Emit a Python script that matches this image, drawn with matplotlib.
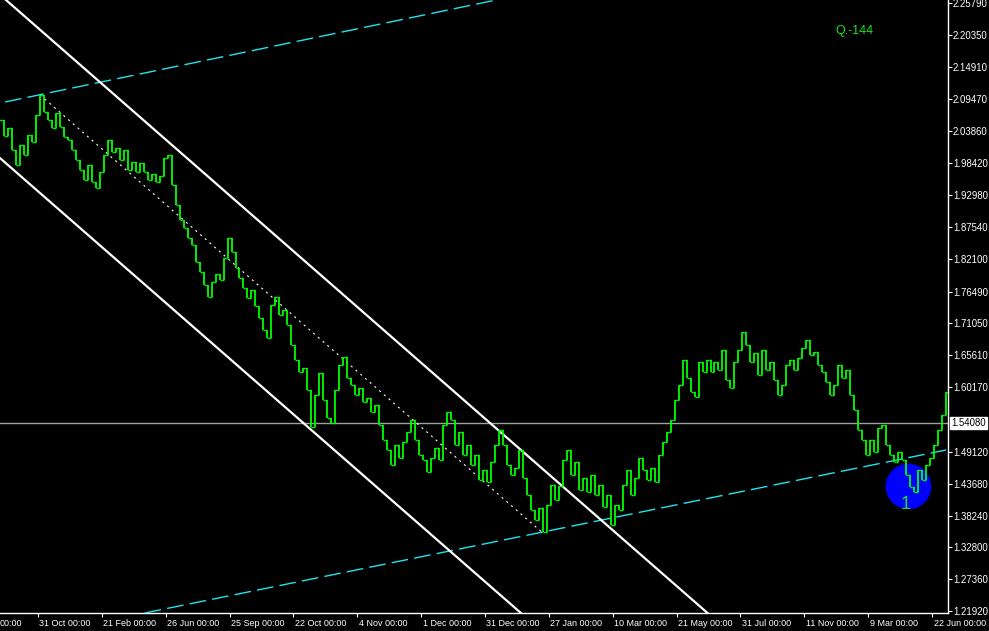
import matplotlib
matplotlib.use("Agg")
import matplotlib.pyplot as plt
import matplotlib.transforms as mtrans
import numpy as np

plt.rcParams['lines.scale_dashes'] = False
plt.rcParams['font.family'] = ['Liberation Sans', 'DejaVu Sans']

# ------------------------------
# 1. Data (closes per bar)
# ------------------------------
closes = [
    2.058, 2.031, 2.044, 2.007, 1.981, 2.015, 1.998, 2.032, 2.020, 2.067,
    2.101, 2.072, 2.058, 2.044, 2.070, 2.046, 2.029, 2.024, 2.007, 1.990,
    1.973, 1.956, 1.981, 1.952, 1.942, 1.969, 1.998, 2.024, 2.003, 2.010,
    1.990, 2.007, 1.973, 1.986, 1.969, 1.985, 1.969, 1.956, 1.966, 1.952,
    1.962, 1.993, 1.998, 1.947, 1.913, 1.887, 1.874, 1.857,
    1.845, 1.816, 1.798, 1.776, 1.756, 1.781, 1.795, 1.785, 1.822, 1.857,
    1.833, 1.805, 1.788, 1.771, 1.754, 1.768, 1.740, 1.720, 1.699, 1.686,
    1.742, 1.756, 1.725, 1.734, 1.708, 1.674, 1.648, 1.628, 1.634, 1.597,
    1.534, 1.588, 1.626, 1.580, 1.549, 1.541, 1.597, 1.640, 1.653, 1.617,
    1.605, 1.588, 1.600, 1.576, 1.583, 1.559, 1.571, 1.537, 1.511, 1.494,
    1.469, 1.503, 1.481, 1.508, 1.525, 1.546, 1.511, 1.486, 1.477, 1.457,
    1.481, 1.498, 1.477, 1.537, 1.559, 1.546, 1.503, 1.525, 1.486, 1.503,
    1.469, 1.486, 1.443, 1.460, 1.440, 1.474, 1.503, 1.529, 1.503, 1.469,
    1.452, 1.464, 1.494, 1.447, 1.418, 1.392, 1.375, 1.395, 1.354, 1.400,
    1.435, 1.409, 1.433, 1.477, 1.494, 1.452, 1.474, 1.426, 1.447, 1.423,
    1.452, 1.418, 1.435, 1.397,
    1.418, 1.366, 1.400, 1.392, 1.435, 1.460, 1.418, 1.447, 1.481, 1.460,
    1.443, 1.464, 1.440, 1.486, 1.508, 1.525, 1.546, 1.580, 1.605, 1.648,
    1.617, 1.593, 1.585, 1.645, 1.628, 1.648, 1.628, 1.645, 1.631, 1.665,
    1.614, 1.600, 1.645, 1.665, 1.696, 1.674, 1.645, 1.660, 1.623, 1.665,
    1.631, 1.645, 1.614, 1.588, 1.605,
    1.640, 1.648, 1.631, 1.652, 1.669, 1.682, 1.657, 1.662, 1.640, 1.628,
    1.611, 1.588, 1.605, 1.640, 1.617, 1.631, 1.588, 1.563, 1.529, 1.511,
    1.486, 1.511, 1.491, 1.532, 1.537, 1.503, 1.486, 1.474, 1.491, 1.477,
    1.452, 1.431, 1.423, 1.460, 1.443, 1.469, 1.481, 1.503, 1.529, 1.554,
    1.593,
]

date_labels = ["31 Oct 00:00", "21 Feb 00:00", "26 Jun 00:00", "25 Sep 00:00",
               "22 Oct 00:00", "4 Nov 00:00", "1 Dec 00:00", "31 Dec 00:00",
               "27 Jan 00:00", "10 Mar 00:00", "21 May 00:00", "31 Jul 00:00",
               "11 Nov 00:00", "9 Mar 00:00", "22 Jun 00:00"]
date_bars = [9.5, 25.5, 41.5, 57.5, 73.5, 89.5, 105.5, 121.5,
             137.5, 153.5, 169.5, 185.5, 201.5, 217.5, 233.5]

price_ticks = [2.25790, 2.20350, 2.14910, 2.09470, 2.03860, 1.98420, 1.92980,
               1.87540, 1.82100, 1.76490, 1.71050, 1.65610, 1.60170, 1.49120,
               1.43680, 1.38240, 1.32800, 1.27360, 1.21920]
last_price = 1.54080

# trend lines: (bar, price) anchors
cyan_upper_bars, cyan_upper_prices = [1.25, 125.0], [2.0888, 2.2640]
cyan_lower_bars, cyan_lower_prices = [36.25, 237.0], [1.2160, 1.4944]
white_upper_bars, white_upper_prices = [1.5, 177.25], [2.2630, 1.2160]
white_lower_bars, white_lower_prices = [0.0, 130.5], [1.9930, 1.2160]
dotted_bars, dotted_prices = [10.0, 135.75], [2.1010, 1.3540]

circle_bar, circle_price = 227.5, 1.433
wave_label = "1"
wave_bar, wave_price = 226.9, 1.4005
title_text = "Q.-144"

# ------------------------------
# 2. Figure
# ------------------------------
W, H = 989, 631
fig = plt.figure(figsize=(W / 100, H / 100), dpi=100, facecolor="black")
ax = fig.add_axes([0, (H - 613) / H, 948 / W, 613 / H], facecolor="black")
ax.set_xlim(0, 237.5)
ax.set_ylim(1.2160, 2.2630)

# current price line
ax.axhline(last_price, color="#a0a0a0", lw=1.0, zorder=1)

# blue marker
ax.scatter([circle_bar], [circle_price], s=1080, color="#0000ff", zorder=2,
           linewidths=0)

# price bars: open = previous close
x = np.arange(len(closes))
c = np.array(closes)
o = np.concatenate([[c[0]], c[:-1]])
lo = np.minimum(o, c)
hi = np.maximum(o, c)
green = "#00ff00"
ax.vlines(x, lo, hi, color=green, lw=1.3, zorder=4)
ax.hlines(o, x - 0.5, x, color=green, lw=1.0, zorder=4)
ax.hlines(c, x, x + 0.5, color=green, lw=1.0, zorder=4)

# channel lines
cyan = "#1ee6f0"
ax.plot(cyan_upper_bars, cyan_upper_prices, color=cyan, lw=1.0,
        dashes=(12, 4.5), zorder=3)
ax.plot(cyan_lower_bars, cyan_lower_prices, color=cyan, lw=1.0,
        dashes=(12, 4.5), zorder=3)
ax.plot(white_upper_bars, white_upper_prices, color="white", lw=1.6, zorder=3)
ax.plot(white_lower_bars, white_lower_prices, color="white", lw=1.6, zorder=3)
ax.plot(dotted_bars, dotted_prices, color="white", lw=0.8,
        dashes=(1.5, 3.0), zorder=3)

# texts
text_green = "#1fe01f"
ax.text(wave_bar, wave_price, wave_label, color=text_green, fontsize=13,
        ha="center", va="center", zorder=5)
ax.text(835 / 948, 1 - 31 / 613, title_text, color=text_green, fontsize=9,
        ha="left", va="center", transform=ax.transAxes)

# ------------------------------
# 3. Axes styling
# ------------------------------
for s in ["top", "left"]:
    ax.spines[s].set_visible(False)
for s in ["right", "bottom"]:
    ax.spines[s].set_color("white")
    ax.spines[s].set_linewidth(1.0)

ax.yaxis.tick_right()
ax.set_yticks(price_ticks)
ax.set_yticklabels([f"{p:.5f}" for p in price_ticks])
ax.tick_params(axis="y", colors="white", length=3, width=0.8, pad=0.6,
               labelsize=6.9)

ax.set_xticks(date_bars)
ax.set_xticklabels(date_labels, ha="left")
ax.tick_params(axis="x", colors="white", length=3, width=0.8, pad=1.5,
               labelsize=6.5)
offset = mtrans.ScaledTranslation(1.5 / 100, 0, fig.dpi_scale_trans)
for lab in ax.get_xticklabels():
    lab.set_transform(lab.get_transform() + offset)

# partial first date label
fig.text(0, (H - 623) / H, "00:00", color="white", fontsize=6.5,
         ha="left", va="center")

# current price box
ax.annotate(f"{last_price:.5f}", xy=(1.0, last_price),
            xycoords=("axes fraction", "data"), xytext=(2.6, 0),
            textcoords="offset points", ha="left", va="center",
            fontsize=6.9, color="black", annotation_clip=False,
            bbox=dict(boxstyle="square,pad=0.12", fc="white", ec="white"))

fig.savefig("out.png", dpi=100, facecolor="black")
